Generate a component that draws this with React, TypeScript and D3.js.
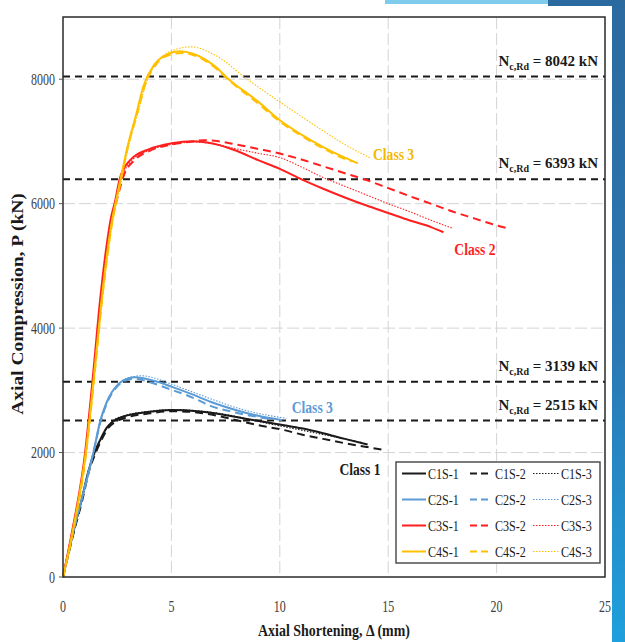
import { useEffect, useRef } from 'react';
import * as d3 from 'd3';

type Pt = [number, number];

// axial shortening (mm), axial compression (kN)
const c1s1: Pt[] = [[0, 0], [0.46, 700], [0.86, 1240], [1.17, 1700], [1.45, 2000], [1.71, 2200], [2.02, 2400], [2.3, 2500], [2.8, 2580], [3.9, 2650], [5, 2683], [6.3, 2660], [7, 2630], [8, 2570], [9, 2510], [10.2, 2440], [11, 2390], [12, 2310], [13, 2220], [14.05, 2130]];
const c1s2: Pt[] = [[0, 0], [0.5, 720], [0.9, 1250], [1.2, 1700], [1.5, 1990], [1.8, 2220], [2.1, 2400], [2.4, 2490], [2.9, 2560], [4, 2630], [5, 2665], [6, 2650], [7, 2600], [8, 2520], [9, 2440], [10.2, 2361], [11, 2290], [12, 2220], [13, 2150], [14, 2090], [14.83, 2040]];
const c1s3: Pt[] = [[0, 0], [0.48, 700], [0.88, 1240], [1.2, 1720], [1.5, 2010], [1.75, 2210], [2.05, 2410], [2.3, 2510], [2.8, 2590], [3.9, 2660], [5, 2690], [6.3, 2670], [7, 2640], [8, 2580], [9, 2500], [10, 2430], [11, 2360], [12, 2290], [13, 2220], [13.8, 2160]];

const c2s1: Pt[] = [[0, 0], [0.45, 700], [0.9, 1300], [1.4, 2000], [1.71, 2500], [2, 2800], [2.55, 3100], [3, 3190], [3.35, 3210], [4, 3170], [4.35, 3139], [5, 3060], [6, 2930], [6.8, 2816], [8, 2680], [9, 2590], [10.1, 2520]];
const c2s2: Pt[] = [[0, 0], [0.45, 700], [0.9, 1300], [1.4, 2000], [1.72, 2480], [2, 2770], [2.55, 3080], [3, 3170], [3.3, 3190], [4, 3130], [5, 3010], [6, 2880], [6.8, 2750], [8, 2640], [9.5, 2540]];
const c2s3: Pt[] = [[0, 0], [0.47, 700], [0.92, 1300], [1.42, 2000], [1.75, 2500], [2.05, 2810], [2.6, 3120], [3.1, 3210], [3.6, 3235], [4.2, 3200], [5, 3100], [6, 2970], [7, 2840], [8, 2720], [9, 2630], [10.3, 2550]];

const c3s1: Pt[] = [[0, 0], [0.4, 700], [1.02, 2000], [1.4, 3300], [1.71, 4450], [2, 5300], [2.2, 5750], [2.41, 6050], [2.61, 6393], [3.1, 6700], [4, 6880], [5, 6970], [6, 7005], [7, 6960], [8, 6850], [9, 6700], [10, 6560], [11, 6390], [12, 6240], [13, 6100], [14, 5970], [15, 5850], [16, 5730], [17, 5620], [17.55, 5540]];
const c3s2: Pt[] = [[0, 0], [0.42, 700], [1.05, 2000], [1.45, 3350], [1.76, 4450], [2.05, 5300], [2.3, 5800], [2.55, 6150], [2.8, 6450], [3.3, 6700], [4, 6850], [5, 6950], [6, 7000], [6.5, 7020], [7, 7010], [8, 6950], [9, 6880], [10, 6806], [11, 6710], [12, 6600], [13, 6490], [14, 6380], [15, 6250], [16, 6120], [17, 5995], [18, 5870], [19, 5760], [20, 5650], [20.55, 5600]];
const c3s3: Pt[] = [[0, 0], [0.41, 700], [1.03, 2000], [1.42, 3300], [1.73, 4450], [2.02, 5300], [2.25, 5750], [2.48, 6100], [2.7, 6400], [3.2, 6700], [4, 6860], [5, 6950], [6, 6990], [7, 6960], [8, 6880], [9, 6810], [10, 6740], [11, 6590], [12, 6420], [13, 6280], [14, 6140], [15, 6000], [16, 5870], [17, 5730], [18, 5600]];

const c4s1: Pt[] = [[0, 0], [0.4, 650], [1.05, 2000], [1.45, 3300], [1.78, 4450], [2.2, 5600], [2.6, 6300], [3, 6950], [3.35, 7400], [3.72, 7900], [4.2, 8230], [4.8, 8400], [5.4, 8450], [6, 8410], [7, 8210], [7.64, 8000], [9, 7640], [10, 7340], [11, 7110], [12, 6910], [13, 6740], [13.6, 6650]];
const c4s2: Pt[] = [[0, 0], [0.42, 650], [1.07, 2000], [1.47, 3300], [1.8, 4450], [2.22, 5600], [2.62, 6300], [3.02, 6950], [3.4, 7420], [3.8, 7920], [4.3, 8240], [4.9, 8390], [5.5, 8420], [6, 8390], [7, 8190], [7.6, 8000], [9, 7610], [10, 7320], [11, 7090], [12, 6890], [13, 6720], [13.35, 6680]];
const c4s3: Pt[] = [[0, 0], [0.43, 650], [1.08, 2000], [1.48, 3300], [1.82, 4450], [2.25, 5600], [2.65, 6300], [3.05, 6950], [3.45, 7450], [3.85, 7950], [4.4, 8300], [5.2, 8480], [5.9, 8520], [7, 8390], [8.5, 8000], [10, 7635], [11, 7400], [12, 7170], [13, 6950], [14.2, 6730]];

const groups = ['C1S', 'C2S', 'C3S', 'C4S'];
const groupColors = ['#1a1a1a', '#5b9bd5', '#ff1f1f', '#ffc000'];
const groupData = [[c1s1, c1s2, c1s3], [c2s1, c2s2, c2s3], [c3s1, c3s2, c3s3], [c4s1, c4s2, c4s3]];

const nRd = [8042, 6393, 3139, 2515];
const xTicks = [0, 5, 10, 15, 20, 25];
const yTicks = [0, 2000, 4000, 6000, 8000];

const classLabels = [
  { text: 'Class 1', x: 12.75, y: 1640, color: '#1a1a1a' },
  { text: 'Class 3', x: 10.55, y: 2640, color: '#5b9bd5' },
  { text: 'Class 2', x: 18.05, y: 5170, color: '#ff1f1f' },
  { text: 'Class 3', x: 14.3, y: 6700, color: '#f5b800' },
];

const W = 625;
const H = 642;

const App = () => {
  const svgRef = useRef<SVGSVGElement>(null);

  useEffect(() => {
    const svg = d3.select(svgRef.current);
    svg.selectAll('*').remove();

    const margin = { top: 17, right: 20, bottom: 65, left: 63 };
    const x = d3.scaleLinear().domain([0, 25]).range([margin.left, W - margin.right]);
    const y = d3.scaleLinear().domain([0, 9000]).range([H - margin.bottom, margin.top]);
    const serif = '"Liberation Serif", "Times New Roman", serif';
    // the source figure is squeezed sideways, so text is narrowed
    const squeeze = (px: number, py: number, s: number) => `translate(${px},${py}) scale(${s},1)`;

    // slide decoration behind the figure
    const defs = svg.append('defs');
    const grad = defs.append('linearGradient').attr('id', 'side').attr('x1', 0).attr('y1', 0).attr('x2', 0).attr('y2', 1);
    grad.append('stop').attr('offset', '0%').attr('stop-color', '#2b6a9f');
    grad.append('stop').attr('offset', '55%').attr('stop-color', '#2a78b4');
    grad.append('stop').attr('offset', '100%').attr('stop-color', '#1ea0dc');
    svg.append('rect').attr('x', 385).attr('y', 0).attr('width', 170).attr('height', 4).attr('fill', '#7ecbec');
    svg.append('rect').attr('x', 548).attr('y', 0).attr('width', 77).attr('height', 6).attr('fill', '#2b6a9f');
    svg.append('rect').attr('x', 612).attr('y', 0).attr('width', 13).attr('height', H).attr('fill', 'url(#side)');

    // grid
    svg.append('g').selectAll('line').data(xTicks.slice(1, -1)).enter().append('line')
      .attr('x1', d => x(d)).attr('x2', d => x(d))
      .attr('y1', y(9000)).attr('y2', y(0))
      .attr('stroke', '#d4d4d4').attr('stroke-dasharray', '12,4');
    svg.append('g').selectAll('line').data(yTicks.slice(1)).enter().append('line')
      .attr('x1', x(0)).attr('x2', x(25))
      .attr('y1', d => y(d)).attr('y2', d => y(d))
      .attr('stroke', '#d4d4d4').attr('stroke-dasharray', '12,4');

    // design resistance lines
    svg.append('g').selectAll('line').data(nRd).enter().append('line')
      .attr('x1', x(0)).attr('x2', x(25))
      .attr('y1', d => y(d)).attr('y2', d => y(d))
      .attr('stroke', '#1a1a1a').attr('stroke-width', 2).attr('stroke-dasharray', '7,5');

    const nLabels = svg.append('g').selectAll('text').data(nRd).enter().append('text')
      .attr('x', 598).attr('y', d => y(d) - 11)
      .attr('text-anchor', 'end')
      .style('font-family', serif).style('font-weight', 'bold').style('font-size', '15px')
      .style('fill', '#1a1a1a');
    nLabels.append('tspan').text('N');
    nLabels.append('tspan').attr('dy', 4).style('font-size', '10px').text('c,Rd');
    nLabels.append('tspan').attr('dy', -4).text(d => ' = ' + d + ' kN');

    // curves
    const line = d3.line<Pt>().x(d => x(d[0])).y(d => y(d[1])).curve(d3.curveMonotoneX);
    const styles = [
      { width: 2, dash: null },
      { width: 2, dash: '8,5' },
      { width: 1.1, dash: '1.5,1.5' },
    ];
    groupData.forEach((set, gi) => {
      set.forEach((pts, si) => {
        svg.append('path')
          .datum(pts)
          .attr('d', line)
          .attr('fill', 'none')
          .attr('stroke', groupColors[gi])
          .attr('stroke-width', styles[si].width)
          .attr('stroke-dasharray', styles[si].dash);
      });
    });

    svg.append('g').selectAll('text').data(classLabels).enter().append('text')
      .attr('transform', d => squeeze(x(d.x), y(d.y), 0.85))
      .style('font-family', serif).style('font-weight', 'bold').style('font-size', '16px')
      .style('fill', d => d.color)
      .text(d => d.text);

    // frame
    svg.append('rect')
      .attr('x', x(0)).attr('y', y(9000))
      .attr('width', x(25) - x(0)).attr('height', y(0) - y(9000))
      .attr('fill', 'none').attr('stroke', '#2a2a2a').attr('stroke-width', 1.5);

    // axes labels
    svg.append('g').selectAll('text').data(yTicks).enter().append('text')
      .attr('transform', d => squeeze(55, y(d) + 5.5, 0.75))
      .attr('text-anchor', 'end')
      .style('font-family', serif).style('font-size', '16px').style('fill', '#404040')
      .text(d => d);
    svg.append('g').selectAll('line').data(yTicks).enter().append('line')
      .attr('x1', x(0) - 4).attr('x2', x(0))
      .attr('y1', d => y(d)).attr('y2', d => y(d))
      .attr('stroke', '#555');
    svg.append('g').selectAll('text').data(xTicks).enter().append('text')
      .attr('transform', d => squeeze(x(d), 612, 0.75))
      .attr('text-anchor', 'middle')
      .style('font-family', serif).style('font-size', '16px').style('fill', '#404040')
      .text(d => d);

    svg.append('text')
      .attr('transform', squeeze(334, 636, 0.82))
      .attr('text-anchor', 'middle')
      .style('font-family', serif).style('font-weight', 'bold').style('font-size', '17px')
      .style('fill', '#1a1a1a')
      .text('Axial Shortening, Δ (mm)');
    svg.append('text')
      .attr('transform', 'translate(23,304) scale(0.82,1) rotate(-90)')
      .attr('text-anchor', 'middle')
      .style('font-family', serif).style('font-weight', 'bold').style('font-size', '19.5px')
      .style('fill', '#1a1a1a')
      .text('Axial Compression, P (kN)');

    // legend
    const lg = svg.append('g');
    lg.append('rect')
      .attr('x', 396).attr('y', 462).attr('width', 204).attr('height', 101)
      .attr('fill', '#fff').attr('stroke', '#444').attr('stroke-width', 1.4);
    const cols = [{ x1: 402, x2: 426, tx: 428 }, { x1: 470, x2: 492, tx: 495 }, { x1: 533, x2: 559, tx: 561 }];
    groups.forEach((g, gi) => {
      const ry = 473.5 + gi * 26;
      cols.forEach((c, si) => {
        lg.append('line')
          .attr('x1', c.x1).attr('x2', c.x2).attr('y1', ry).attr('y2', ry)
          .attr('stroke', groupColors[gi])
          .attr('stroke-width', styles[si].width)
          .attr('stroke-dasharray', si === 1 ? '7,4' : styles[si].dash);
        lg.append('text')
          .attr('transform', squeeze(c.tx, ry + 5, 0.78))
          .style('font-family', serif).style('font-size', '15.5px').style('fill', '#1a1a1a')
          .text(g + '-' + (si + 1));
      });
    });
  }, []);

  return (
    <div style={{ position: 'absolute', left: 0, top: 0 }}>
      <svg ref={svgRef} width={W} height={H} style={{ display: 'block', background: '#fff' }}></svg>
    </div>
  );
};

export default App;
